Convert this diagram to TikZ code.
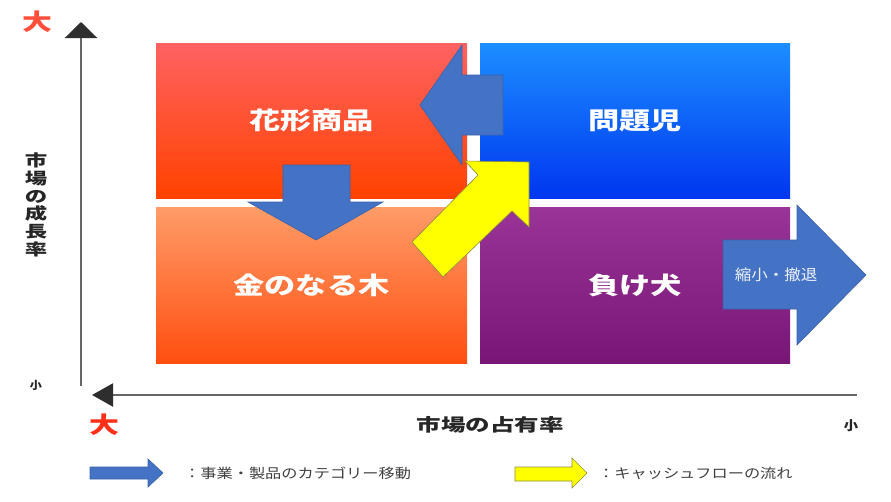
\documentclass[tikz,border=0pt]{standalone}
\usepackage{fontspec}
\usetikzlibrary{arrows.meta}
\newfontfamily\jpA{Noto Sans CJK JP}[FakeStretch=1.3]
\newfontfamily\jpB{Noto Sans CJK JP}[FakeStretch=1.4]
\newfontfamily\jpC{Noto Sans CJK JP}[FakeStretch=1.2]
\newfontfamily\jpD{Noto Sans CJK JP}[FakeStretch=1.1]
\definecolor{tlTop}{HTML}{FF6262}
\definecolor{tlBot}{HTML}{FF4200}
\definecolor{trTop}{HTML}{1C8EFF}
\definecolor{trBot}{HTML}{0036F0}
\definecolor{blTop}{HTML}{FF9C68}
\definecolor{blBot}{HTML}{FF4E10}
\definecolor{brTop}{HTML}{9A3498}
\definecolor{brBot}{HTML}{781676}
\definecolor{blueArrow}{HTML}{4472C4}
\definecolor{blueEdge}{HTML}{3A62AA}
\definecolor{yelArrow}{HTML}{FFFF00}
\definecolor{yelEdge}{HTML}{8C8C3C}
\definecolor{axisGray}{HTML}{666666}
\definecolor{tipDark}{HTML}{2E2E2E}
\definecolor{redTxt}{HTML}{FF3018}
\definecolor{legTxt}{HTML}{404040}
\begin{document}
\begin{tikzpicture}[x=1pt,y=-1pt,
  quad/.style={inner sep=0pt, outer sep=0pt, text=white,
    font=\jpA\bfseries\fontsize{24}{28}\selectfont},
  quadTL/.style={quad, minimum width=311pt, minimum height=155pt},
  blockBlue/.style={fill=blueArrow, draw=blueEdge, line width=0.6pt, line join=miter},
  blockYel/.style={fill=yelArrow, draw=yelEdge, line width=0.6pt, line join=miter},
  axisline/.style={draw=axisGray, line width=2.6pt},
  bigRed/.style={text=redTxt, font=\jpA\bfseries\fontsize{23}{26}\selectfont, inner sep=0pt},
  smallLbl/.style={text=black!85, font=\jpD\bfseries\fontsize{11}{12}\selectfont, inner sep=0pt},
  legText/.style={text=legTxt, anchor=west, inner sep=0pt, font=\jpC\fontsize{13.5}{15}\selectfont}
]
\useasboundingbox (0,0) rectangle (891,501);
\fill[white] (0,0) rectangle (891,501);

% quadrants
\node[quadTL, top color=tlTop, bottom color=tlBot] (tl) at (311.5,120.5) {花形商品};
\node[quadTL, minimum width=310pt, top color=trTop, bottom color=trBot] (tr) at (635,120.5) {問題児};
\node[quadTL, minimum height=156pt, top color=blTop, bottom color=blBot] (bl) at (311.5,285) {金のなる木};
\node[quadTL, minimum width=310pt, minimum height=156pt, top color=brTop, bottom color=brBot] (br) at (635,285) {負け犬};

% axes
\coordinate (yBot) at (81,386);
\coordinate (yTop) at (81,22);
\coordinate (xRight) at (857,395);
\coordinate (xLeft) at (92,395);
\draw[axisline, -{Triangle[length=16pt,width=32pt,fill=tipDark,color=tipDark]}] (yBot) -- (yTop);
\draw[axisline, line width=2.2pt, -{Triangle[length=21pt,width=23pt,fill=tipDark,color=tipDark]}] (xRight) -- (xLeft);

% axis labels
\node[bigRed, text=redTxt!85!white] (bigTop) at (37,22) {大};
\node[bigRed] (bigBot) at (104,425) {大};
\node[smallLbl] (smallL) at (36,385) {小};
\node[smallLbl, font=\jpD\bfseries\fontsize{13}{14}\selectfont] (smallR) at (851,426) {小};
\node[inner sep=0pt, text=black!85, font=\jpB\bfseries\fontsize{17.5}{20}\selectfont] (xLbl) at (490,425) {市場の占有率};
\node[inner sep=0pt, text=black!85, align=center, font=\jpB\bfseries\fontsize{16}{17.7}\selectfont] (yLbl) at (36,205) {市\\場\\の\\成\\長\\率};

% blue block arrows
\path[blockBlue] (420,105) -- (462,45) -- (462,75) -- (503,75) -- (503,135) -- (462,135) -- (462,165) -- cycle;
\path[blockBlue] (283,165) -- (350,165) -- (350,202) -- (383,202) -- (316,240) -- (248,202) -- (283,202) -- cycle;
\path[blockBlue] (723,240) -- (797,240) -- (797,205) -- (866,275) -- (797,345) -- (797,309) -- (723,309) -- cycle;
\node[inner sep=0pt, text=white!90!blueArrow, font=\jpD\fontsize{15}{17}\selectfont] (shrink) at (776,275) {縮小・撤退};

% yellow block arrow
\path[blockYel] (412,242) -- (478,175) -- (465,161) -- (529,162) -- (529,227) -- (512,211) -- (443,277) -- cycle;

% legend
\path[blockBlue] (90,467) -- (148,467) -- (148,459) -- (163,473) -- (148,487) -- (148,479) -- (90,479) -- cycle;
\node[legText] (legBlue) at (184,473) {：事業・製品のカテゴリー移動};
\path[blockYel] (515,467) -- (572,467) -- (572,458) -- (587,473) -- (572,488) -- (572,481) -- (515,481) -- cycle;
\node[legText] (legYel) at (598,473) {：キャッシュフローの流れ};
\end{tikzpicture}
\end{document}
